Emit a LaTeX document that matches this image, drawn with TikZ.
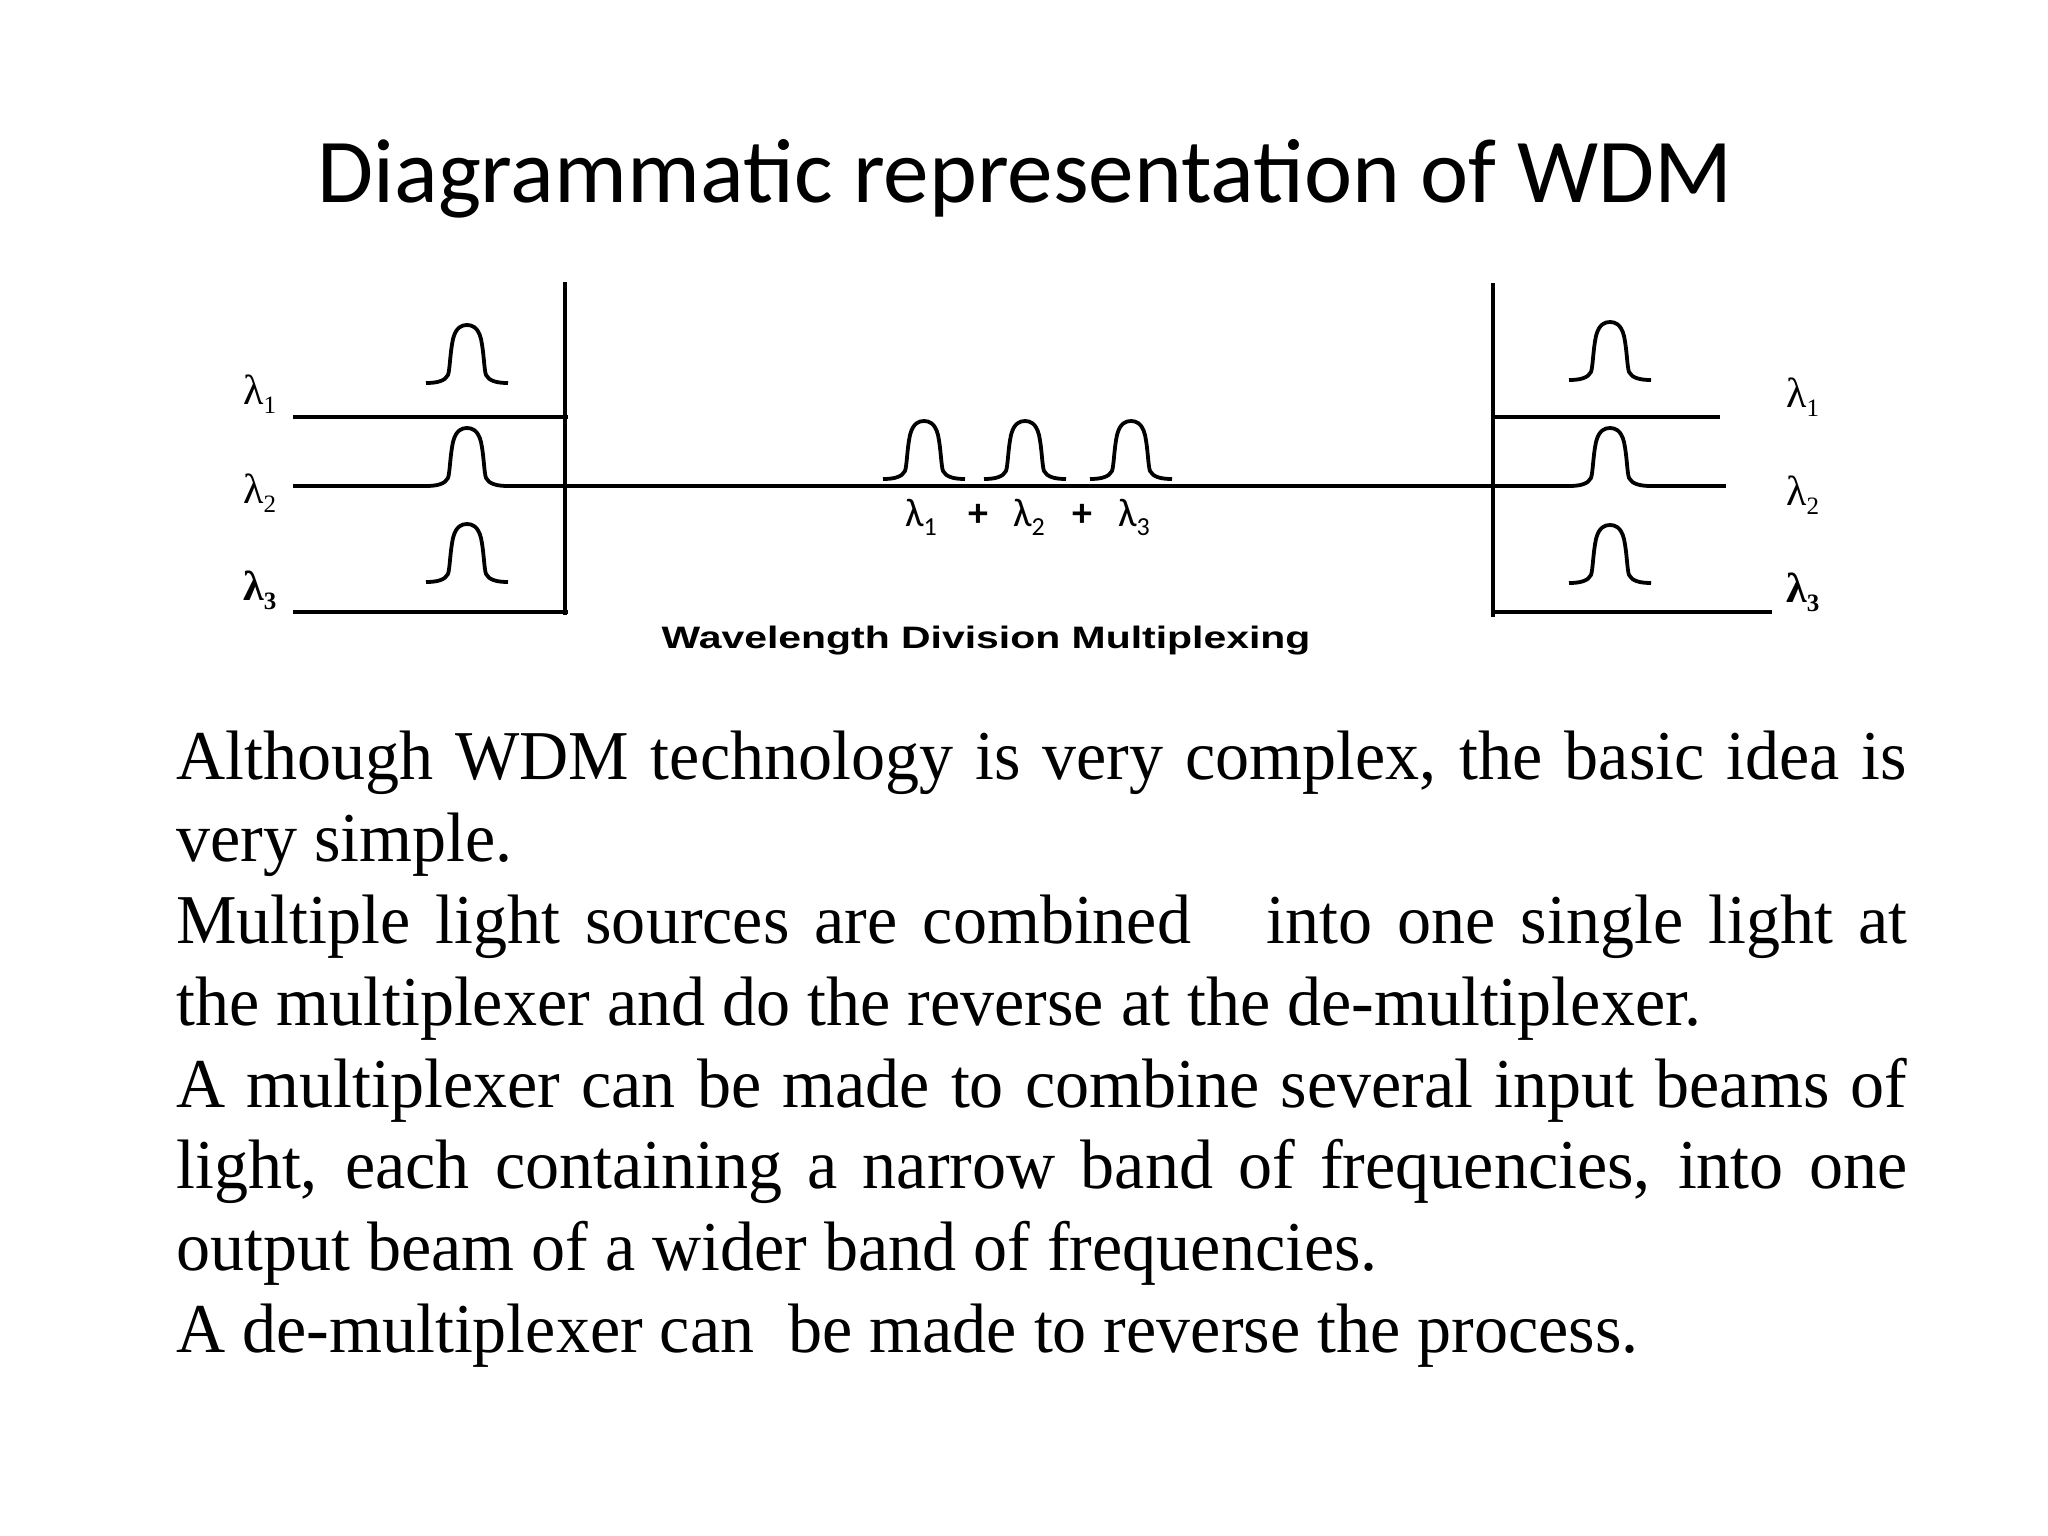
\documentclass[tikz,border=0pt]{standalone}
\usepackage{fontspec}
\setmainfont{Liberation Serif}
\newfontfamily\bodyfont[FakeStretch=0.972]{Liberation Serif}
\newfontfamily\carlito{Carlito}
\newfontfamily\capfont[FakeStretch=1.32]{Liberation Sans}
\newcommand{\lamlab}[1]{λ\raisebox{-9pt}{\fontsize{25}{26}\selectfont #1}}
\newcommand{\lamsum}[1]{λ\raisebox{-9pt}{\fontsize{26}{28}\selectfont #1}}
\begin{document}
\begin{tikzpicture}[x=1pt,y=-1pt]
\tikzset{
  wire/.style={line width=3.5pt},
  wall/.style={line width=4.5pt},
  pulseline/.style={line width=3.8pt, line join=round},
  pulse/.pic={\draw[pulseline] (-41,0) .. controls (-30,0) and (-22,-2) .. (-19,-8)
      .. controls (-17,-14) and (-17,-30) .. (-14,-44)
      .. controls (-11,-56) and (-5,-58) .. (0,-58)
      .. controls (5,-58) and (11,-56) .. (14,-44)
      .. controls (17,-30) and (17,-14) .. (19,-8)
      .. controls (22,-2) and (30,0) .. (41,0);},
  lam/.style={inner sep=0pt, anchor=base west, font=\fontsize{42}{44}\selectfont},
  body/.style={inner sep=0pt, anchor=base west, font=\bodyfont\fontsize{70}{80}\selectfont},
}
\useasboundingbox (0,0) rectangle (2048,1536);
\fill[white] (0,0) rectangle (2048,1536);

% title
\node[inner sep=0pt, anchor=base, font=\carlito\fontsize{91.2}{100}\selectfont] (title) at (1025,202) {Diagrammatic representation of WDM};

% coordinates
\coordinate (LvT) at (565,282); \coordinate (LvB) at (565,615);
\coordinate (RvT) at (1493,283); \coordinate (RvB) at (1493,617);
\coordinate (L1a) at (293,417); \coordinate (L1b) at (568,417);
\coordinate (L3a) at (293,612); \coordinate (L3b) at (568,612);
\coordinate (L2a) at (293,486); \coordinate (L2p) at (426,486); \coordinate (L2q) at (508,486);
\coordinate (R2p) at (1569,486); \coordinate (R2q) at (1651,486); \coordinate (R2b) at (1726,486);
\coordinate (R1a) at (1493,417); \coordinate (R1b) at (1720,417);
\coordinate (R3a) at (1493,612); \coordinate (R3b) at (1772,612);

% walls
\draw[wall] (LvT) -- (LvB);
\draw[wall] (RvT) -- (RvB);
% wires
\draw[wire] (L1a) -- (L1b);
\draw[wire] (L3a) -- (L3b);
\draw[wire] (L2a) -- (L2p);
\draw[wire] (L2q) -- (R2p);
\draw[wire] (R2q) -- (R2b);
\draw[wire] (R1a) -- (R1b);
\draw[wire] (R3a) -- (R3b);

% pulses
\pic at (467,383) {pulse};
\pic at (467,486) {pulse};
\pic at (467,582) {pulse};
\pic at (924,479) {pulse};
\pic at (1025,479) {pulse};
\pic at (1131,479) {pulse};
\pic at (1610,380) {pulse};
\pic at (1610,486) {pulse};
\pic at (1610,583) {pulse};

% lambda labels
\node[lam] (ll1) at (243,404) {\lamlab{1}};
\node[lam] (ll2) at (243,503) {\lamlab{2}};
\node[lam] (ll3) at (243,600) {\bfseries\lamlab{3}};
\node[lam] (rl1) at (1786,407) {\lamlab{1}};
\node[lam] (rl2) at (1786,505) {\lamlab{2}};
\node[lam] (rl3) at (1786,602) {\bfseries\lamlab{3}};

\node[inner sep=0pt, anchor=base west, font=\carlito\fontsize{40}{44}\selectfont] (sum) at (905,526)
  {\makebox[63pt][l]{\lamsum{1}}\makebox[45pt][l]{\textbf{+}}\makebox[59pt][l]{\lamsum{2}}\makebox[46pt][l]{\textbf{+}}\lamsum{3}};

\node[inner sep=0pt, anchor=base, font=\capfont\bfseries\fontsize{31}{34}\selectfont] (cap) at (986,648) {Wavelength Division Multiplexing};

% body text
\node[body] (b1) at (176,779) {\makebox[1731pt][s]{Although WDM technology is very complex, the basic idea is}};
\node[body] (b2) at (176,861) {very simple.};
\node[body] (b3) at (176,943) {\makebox[1731pt][s]{Multiple light sources are combined\ \ \ into one single light at}};
\node[body] (b4) at (176,1025) {the multiplexer and do the reverse at the de-multiplexer.};
\node[body] (b5) at (176,1107) {\makebox[1731pt][s]{A multiplexer can be made to combine several input beams of}};
\node[body] (b6) at (176,1188) {\makebox[1731pt][s]{light, each containing a narrow band of frequencies, into one}};
\node[body] (b7) at (176,1270) {output beam of a wider band of frequencies.};
\node[body] (b8) at (176,1352) {A de-multiplexer can\ \ be made to reverse the process.};
\end{tikzpicture}
\end{document}
